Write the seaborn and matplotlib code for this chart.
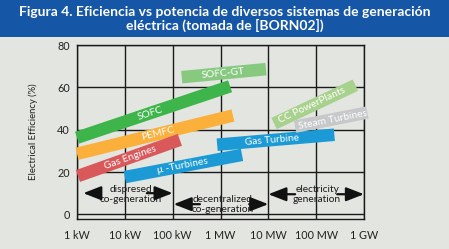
import numpy as np
import matplotlib
matplotlib.use("Agg")
import matplotlib.pyplot as plt
import seaborn as sns
from matplotlib.patches import Rectangle

# ---- data (x in decades above 1 kW: 0 = 1 kW ... 6 = 1 GW) ----
systems = ["SOFC", "SOFC-GT", "PEMFC", "Gas Engines", "\u03bc -Turbines",
           "Gas Turbine", "CC PowerPlants", "Steam Turbines"]
x_start = [0.0, 2.19, 0.0, 0.02, 1.0, 2.93, 4.12, 4.56]
x_end = [3.2, 3.95, 3.26, 2.15, 3.45, 5.38, 5.82, 6.07]
eff_start = [36.2, 64.8, 28.6, 18.1, 17.6, 32.9, 42.9, 41.4]
eff_end = [60.5, 68.6, 46.7, 35.2, 28.1, 37.6, 61.0, 48.1]
colors = ["#3db54a", "#86c97f", "#fbb03b", "#d9585a", "#1b9ad6",
          "#1b9ad6", "#a9d18e", "#c6c8ca"]
label_pos = [0.48, 0.49, 0.52, 0.51, 0.49, 0.47, 0.47, 0.52]

x_ticks = [0, 1, 2, 3, 4, 5, 6]
x_labels = ["1 kW", "10 kW", "100 kW", "1 MW", "10 MW", "100 MW", "1 GW"]
y_ticks = [0, 20, 40, 60, 80]

regions = ["dispresed\nco-generation", "decentralized\nco-generation",
           "electricity\ngeneration"]
region_x = [1.13, 3.05, 5.02]
region_y = [9.3, 4.8, 9.3]
arrow_y = [10.0, 4.8, 9.5]
arrow_left = [(0.48, 0.13), (2.57, 2.02), (4.56, 4.0)]
arrow_right = [(1.46, 2.0), (3.6, 4.0), (5.44, 6.0)]

title = ("Figura 4. Eficiencia vs potencia de diversos sistemas de generaci\u00f3n\n"
         "el\u00e9ctrica (tomada de [BORN02])")

# ---- styling ----
sns.set_theme(style="white")
plt.rcParams["font.family"] = ["Lato", "DejaVu Sans"]
bg = "#e3e5e0"

fig = plt.figure(figsize=(4.49, 2.49), dpi=100, facecolor=bg)
fig.patches.append(Rectangle((0, 1 - 37 / 249), 1, 37 / 249, transform=fig.transFigure,
                             facecolor="#1557a6", edgecolor="none", zorder=0))
fig.text(0.5, 1 - 19 / 249, title, ha="center", va="center", color="white",
         fontsize=10, fontweight="bold", linespacing=1.15)

ax = fig.add_axes([77 / 449, 1 - 219 / 249, (364 - 77) / 449, (219 - 45) / 249])
ax.set_facecolor(bg)
ax.set_xlim(0, 6)
ax.set_ylim(-2.2, 80)
ax.set_xticks(x_ticks)
ax.set_xticklabels(x_labels)
ax.set_yticks(y_ticks)
ax.tick_params(axis="both", length=0, labelsize=7.8, colors="#222222")
ax.tick_params(axis="x", pad=8)
ax.tick_params(axis="y", pad=5)
ax.grid(True, color="#1a1a1a", linewidth=1.0)
ax.set_axisbelow(True)
for s in ax.spines.values():
    s.set_color("#1a1a1a")
    s.set_linewidth(1.0)
ax.set_ylabel("Electrical Efficiency (%)", fontsize=6.8, labelpad=14, color="#222222")

for i, name in enumerate(systems):
    sns.lineplot(x=[x_start[i], x_end[i]], y=[eff_start[i], eff_end[i]], ax=ax,
                 color=colors[i], linewidth=9, solid_capstyle="butt",
                 clip_on=False, zorder=3 + i * 0.1)
    t = label_pos[i]
    xm = x_start[i] + t * (x_end[i] - x_start[i])
    ym = eff_start[i] + t * (eff_end[i] - eff_start[i])
    ang = np.degrees(np.arctan2(eff_end[i] - eff_start[i], x_end[i] - x_start[i]))
    ax.text(xm, ym, name, color="white", fontsize=7.4, ha="center", va="center",
            rotation=ang, rotation_mode="anchor", transform_rotates_text=True,
            zorder=5, clip_on=False)

for i, r in enumerate(regions):
    ax.text(region_x[i], region_y[i], r, ha="center", va="center", fontsize=7.3,
            color="#1a1a1a", linespacing=1.15, zorder=4)
    for tail, head in (arrow_left[i], arrow_right[i]):
        ax.annotate("", xy=(head, arrow_y[i]), xytext=(tail, arrow_y[i]),
                    arrowprops=dict(arrowstyle="-|>,head_length=0.9,head_width=0.35",
                                    color="#111111", lw=1.6, shrinkA=0, shrinkB=0),
                    zorder=4)

fig.savefig("out.png", dpi=100, facecolor=bg)
